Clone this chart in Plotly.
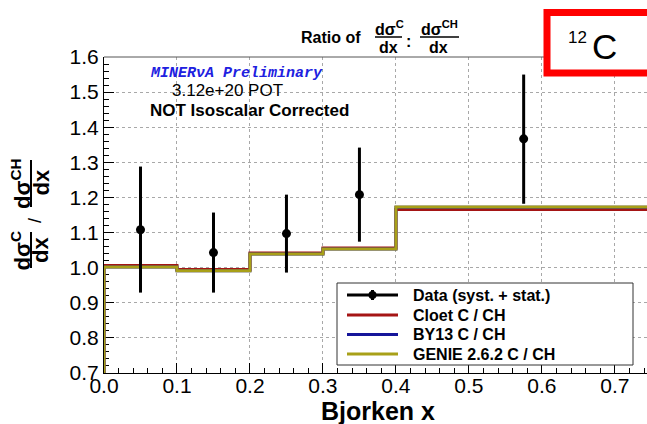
import plotly.graph_objects as go

# ---------------- data ----------------
bin_edges = [0.0, 0.1, 0.2, 0.3, 0.4, 0.75]
cloet_ratio = [1.006, 0.995, 1.042, 1.056, 1.166]
by13_ratio = [1.002, 0.991, 1.039, 1.053, 1.172]
genie_ratio = [1.002, 0.991, 1.039, 1.053, 1.173]

data_x = [0.05, 0.15, 0.25, 0.35, 0.575]
data_y = [1.108, 1.043, 1.097, 1.208, 1.367]
data_hi = [1.288, 1.157, 1.208, 1.342, 1.550]
data_lo = [0.929, 0.929, 0.986, 1.074, 1.182]

x_ticks = [0.0, 0.1, 0.2, 0.3, 0.4, 0.5, 0.6, 0.7]
y_ticks = [0.7, 0.8, 0.9, 1.0, 1.1, 1.2, 1.3, 1.4, 1.5, 1.6]
x_range = [0.0, 0.744]
y_range = [0.7, 1.6]

legend_labels = ["Data (syst. + stat.)", "Cloet C / CH", "BY13 C / CH", "GENIE 2.6.2 C / CH"]

# ---------------- styles ----------------
C_RED = "#a51515"
C_BLUE = "#15159a"
C_OLIVE = "#a8a018"
FONT = "Liberation Sans"

W_FIG, H_FIG = 647, 424
L, R, T, B = 104, 647, 57, 373
PW, PH = R - L, B - T


def px(x):
    return (x - L) / PW


def py(y):
    return (B - y) / PH


def step_xy(edges, vals, ymin):
    xs = [edges[0]] + list(edges[:-1]) + [edges[-1]]
    ys = [ymin] + list(vals) + [vals[-1]]
    return xs, ys


fig = go.Figure()

for vals, col in [(cloet_ratio, C_RED), (by13_ratio, C_BLUE), (genie_ratio, C_OLIVE)]:
    xs, ys = step_xy(bin_edges, vals, y_range[0])
    fig.add_trace(go.Scatter(x=xs, y=ys, mode="lines", line=dict(color=col, width=3, shape="hv"),
                             showlegend=False, hoverinfo="skip"))

fig.add_trace(go.Scatter(
    x=data_x, y=data_y, mode="markers",
    marker=dict(color="black", size=9),
    error_y=dict(type="data", symmetric=False,
                 array=[h - y for h, y in zip(data_hi, data_y)],
                 arrayminus=[y - l for y, l in zip(data_y, data_lo)],
                 thickness=3, width=0, color="black"),
    showlegend=False))

axis_common = dict(showline=True, linecolor="black", linewidth=1, ticks="inside", ticklen=10,
                   tickcolor="black", tickwidth=1, showgrid=True, gridcolor="#a8a8a8",
                   griddash="dot", gridwidth=1, zeroline=False, layer="below traces",
                   tickfont=dict(family=FONT, size=21, color="black"), tickformat=".1f")

fig.update_xaxes(range=x_range, tickmode="array", tickvals=x_ticks, ticklabelstandoff=-6,
                 minor=dict(dtick=0.02, tick0=0, ticks="inside", ticklen=5, tickcolor="black", showgrid=False),
                 **axis_common)
fig.update_yaxes(range=y_range, tickmode="array", tickvals=y_ticks,
                 minor=dict(dtick=0.02, tick0=0.7, ticks="inside", ticklen=5, tickcolor="black", showgrid=False),
                 **axis_common)

shapes = []
annots = []


def text(x, y, s, size, color="black", angle=0, xanchor="center", family=FONT):
    annots.append(dict(x=px(x), y=py(y), xref="paper", yref="paper", text=s, showarrow=False,
                       font=dict(family=family, size=size, color=color), textangle=angle,
                       xanchor=xanchor, yanchor="middle"))


def line(x0, y0, x1, y1, color="black", width=1):
    shapes.append(dict(type="line", xref="paper", yref="paper", x0=px(x0), y0=py(y0),
                       x1=px(x1), y1=py(y1), line=dict(color=color, width=width)))


# top frame line
line(L, T, R, T, color="#555555", width=1)

# title
text(331, 38, "<b>Ratio of</b>", 16)
text(389, 28, "<b>dσ<sup>C</sup></b>", 16)
line(375, 37, 402, 37, width=1.5)
text(388, 47, "<b>dx</b>", 16)
text(408, 42, "<b>:</b>", 16)
text(439, 28, "<b>dσ<sup>CH</sup></b>", 16)
line(420, 37, 459, 37, width=1.5)
text(438, 47, "<b>dx</b>", 16)

# y title (rotated fractions)
text(20.5, 251, "<b>dσ<sup>C</sup></b>", 22, angle=-90)
line(31, 232, 31, 268, width=2)
text(41, 250, "<b>dx</b>", 22, angle=-90)
text(35, 221, "/", 18, angle=-90)
text(20.5, 183.5, "<b>dσ<sup>CH</sup></b>", 22, angle=-90)
line(31, 160, 31, 207, width=2)
text(41, 182.5, "<b>dx</b>", 22, angle=-90)

# x title
text(378, 411, "<b>Bjorken x</b>", 25)

# labels in plot
text(236.5, 73, "<b><i>MINERνA Preliminary</i></b>", 15, color="#2020e0", family="Liberation Mono")
text(227.5, 90, "3.12e+20 POT", 17)
text(249.5, 110, "<b>NOT Isoscalar Corrected</b>", 17)

# 12C box
shapes.append(dict(type="rect", xref="paper", yref="paper", x0=px(547), y0=py(73), x1=px(670), y1=py(12.5),
                   line=dict(color="#ff0000", width=7), fillcolor="white", layer="above"))
text(577, 38, "12", 17)
text(604, 46, "C", 35)

# legend box
shapes.append(dict(type="rect", xref="paper", yref="paper", x0=px(337), y0=py(365), x1=px(633), y1=py(283),
                   line=dict(color="#333333", width=1), fillcolor="white", layer="above"))
rows = [295, 315, 334.5, 354]
leg_colors = ["black", C_RED, C_BLUE, C_OLIVE]
for i, (lab, col) in enumerate(zip(legend_labels, leg_colors)):
    yy = rows[i]
    line(347, yy, 398, yy, color=col, width=3)
    if i == 0:
        line(372.5, yy - 5, 372.5, yy + 5, color="black", width=3)
        shapes.append(dict(type="circle", xref="paper", yref="paper", x0=px(368.5), x1=px(376.5),
                           y0=py(yy + 4), y1=py(yy - 4), fillcolor="black", line=dict(color="black", width=0)))
    text(411, yy, "<b>" + lab + "</b>", 16, xanchor="left")

fig.update_layout(width=W_FIG, height=H_FIG, autosize=False,
                  margin=dict(l=L, r=W_FIG - R, t=T, b=H_FIG - B, pad=0),
                  paper_bgcolor="white", plot_bgcolor="white",
                  shapes=shapes, annotations=annots, showlegend=False)

fig.write_html("out.html")
